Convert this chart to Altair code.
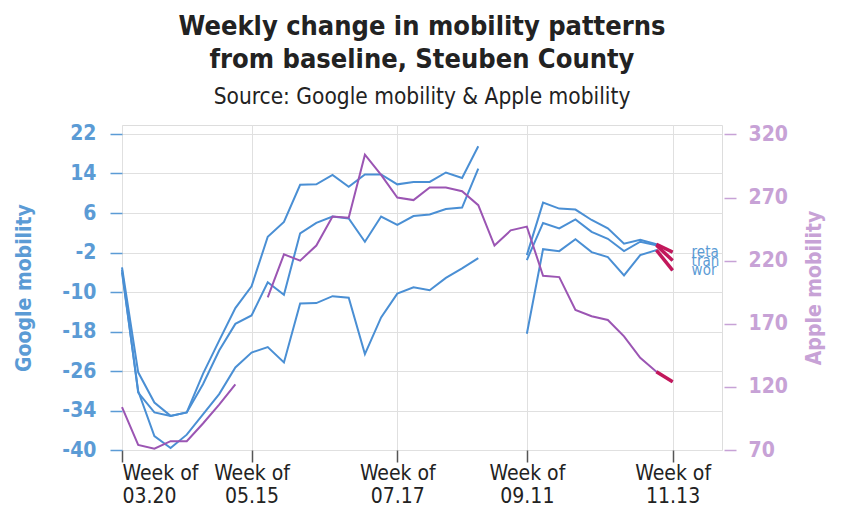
import altair as alt
import pandas as pd

# ---- data (week index 0 = week of 03.20) ----
weeks = list(range(35))
retail = [-5, -26.2, -32.3, -35, -34.3, -26.5, -19.8, -13.2, -8.8, 1.2, 4.2, 11.7, 11.8, 13.7, 11.3,
          13.8, 13.8, 11.8, 12.3, 12.3, 14.2, 13.1, 19.5, None, None, -2.5, 8.1, 6.9, 6.7, 4.6,
          2.9, -0.2, 0.6, -0.3, -1.9]
transit = [-5.5, -30.3, -34.3, -35, -34.3, -28.6, -21.8, -16.4, -14.7, -8.0, -10.5, 1.9, 4.0, 5.3, 4.9,
           0.2, 5.3, 3.6, 5.4, 5.7, 6.8, 7.1, 15.0, None, None, -3.5, 4.0, 2.9, 4.7, 2.2,
           0.8, -1.7, 0.2, -0.5, -3.6]
workplaces = [-6, -30, -39.1, -41.5, -38.8, -34.7, -30.6, -25.2, -22.2, -21.1, -24.2, -12.3, -12.2, -10.8, -11.1,
              -22.5, -15.1, -10.3, -9.0, -9.6, -7.1, -5.2, -3.1, None, None, -18.4, -1.3, -1.7, 0.7, -1.9,
              -2.9, -6.6, -2.5, -1.5, -5.6]
apple = [104, 74, 71, 77, 77, 91, 106, 122, None, 191, 225, 220, 232, 255, 254,
         304, 288, 270, 268, 278, 278, 275, 264, 232, 244, 247, 208, 207, 181, 176,
         173, 160, 143, 132, 124]

google_series = {"retail": retail, "transit": transit, "workplaces": workplaces}

tick_weeks = [0, 8, 17, 25, 34]
tick_dates = ["03.20", "05.15", "07.17", "09.11", "11.13"]
google_ticks = [22, 14, 6, -2, -10, -18, -26, -34, -41.9]
apple_ticks = [70, 120, 170, 220, 270, 320]

BLUE = "#4a8fd4"
BLUE_TXT = "#5b9bd5"
PURPLE = "#9b55b3"
PURPLE_TXT = "#c7a2d6"
CRIMSON = "#c2185b"
FONT = "Liberation Sans Narrow, DejaVu Sans Condensed, Lato, sans-serif"


def to_long(name, values):
    rows, seg = [], 0
    for w, v in zip(weeks, values):
        if v is None:
            seg += 1
            continue
        rows.append({"week": w, "value": v, "series": name, "seg": f"{name}-{seg}"})
    return rows


g_rows = []
for k, v in google_series.items():
    g_rows += to_long(k, v)
gdf = pd.DataFrame(g_rows)
adf = pd.DataFrame(to_long("apple", apple))

g_end = gdf[gdf.week >= weeks[-2]]
a_end = adf[adf.week >= weeks[-2]]
g_lab = gdf[gdf.week == weeks[-1]]

label_expr = " : ".join(
    [f"datum.value == {w} ? ['Week of', '{d}']" for w, d in zip(tick_weeks, tick_dates)]
) + " : ''"

x_enc = alt.X(
    "week:Q",
    scale=alt.Scale(domain=[0, 37.05], nice=False, zero=False),
    axis=alt.Axis(
        values=tick_weeks, labelExpr=label_expr, title=None, grid=True,
        gridColor="#e0e0e0", tickColor="#555", tickSize=12, tickWidth=1.5,
        labelFontSize=21, labelColor="#222", labelFont=FONT, domain=False,
        labelPadding=0, labelLineHeight=23, labelBaseline="top",
    ),
)

g_y = alt.Y(
    "value:Q",
    scale=alt.Scale(domain=[-41.9, 23.8], nice=False, zero=False),
    axis=alt.Axis(
        values=google_ticks,
        labelExpr="datum.value < -40 ? '-40' : '' + datum.value",
        title="Google mobility", titleColor=BLUE_TXT, titleFont=FONT, titleFontSize=21,
        titleFontWeight="bold", titlePadding=27,
        labelColor=BLUE_TXT, labelFont=FONT, labelFontSize=21, labelFontWeight="bold",
        tickColor=BLUE_TXT, tickSize=12, tickWidth=1.5, labelPadding=14,
        grid=True, gridColor="#e0e0e0", domain=False,
    ),
)

a_y = alt.Y(
    "value:Q",
    scale=alt.Scale(domain=[70, 327.5], nice=False, zero=False),
    axis=alt.Axis(
        orient="right", values=apple_ticks,
        title="Apple mobility", titleColor=PURPLE_TXT, titleFont=FONT, titleFontSize=21,
        titleFontWeight="bold", titlePadding=16, titleAngle=270, titleBaseline="top",
        labelColor=PURPLE_TXT, labelFont=FONT, labelFontSize=21, labelFontWeight="bold",
        tickColor=PURPLE_TXT, tickSize=12, tickWidth=1.5, labelPadding=12, offset=2,
        grid=False, domain=False,
    ),
)

g_lines = alt.Chart(gdf).mark_line(color=BLUE, strokeWidth=2).encode(
    x=x_enc, y=g_y, detail="seg:N"
)
g_tail = alt.Chart(g_end).mark_line(color=CRIMSON, strokeWidth=3.5).encode(
    x=x_enc, y=g_y, detail="seg:N"
)
g_text = alt.Chart(g_lab).mark_text(
    align="left", baseline="middle", dx=19, fontSize=15, color=BLUE_TXT, font=FONT,
    clip=True, limit=29, ellipsis="\u200b",
).encode(x=x_enc, y=g_y, text="series:N")

a_lines = alt.Chart(adf).mark_line(color=PURPLE, strokeWidth=2).encode(
    x=x_enc, y=a_y, detail="seg:N"
)
a_tail = alt.Chart(a_end).mark_line(color=CRIMSON, strokeWidth=3.5).encode(
    x=x_enc, y=a_y, detail="seg:N"
)

google_layer = alt.layer(g_lines, g_tail, g_text)
apple_layer = alt.layer(a_lines, a_tail)

chart = (
    alt.layer(google_layer, apple_layer)
    .resolve_scale(y="independent")
    .properties(
        width=600, height=325,
        title=alt.TitleParams(
            text=["Weekly change in mobility patterns", "from baseline, Steuben County"],
            subtitle="Source: Google mobility & Apple mobility",
            font=FONT, fontSize=27, fontWeight="bold", color="#222", lineHeight=33,
            subtitleFont=FONT, subtitleFontSize=22.5, subtitleColor="#222",
            subtitlePadding=12, anchor="middle", offset=13,
        ),
    )
    .configure_view(stroke="#333", strokeWidth=2)
    .configure(background="white")
)

chart.save("out.html", embed_options={"renderer": "svg", "actions": False})
